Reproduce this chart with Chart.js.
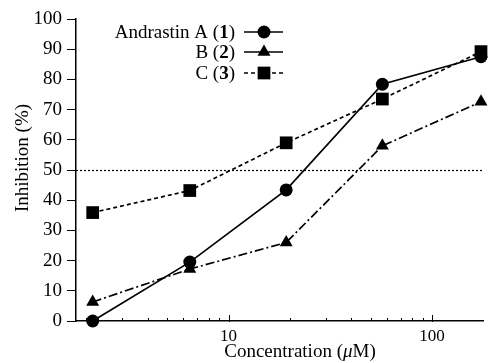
<!DOCTYPE html>
<html><head><meta charset="utf-8">
<script src="https://cdn.jsdelivr.net/npm/chart.js@4.4.1/dist/chart.umd.min.js"></script>
<style>html,body{margin:0;padding:0;background:#fff}#wrap{width:492px;height:363px}</style>
</head><body><div id="wrap"><canvas id="c" width="492" height="363"></canvas></div>
<script>
// ---- data ----
const concentrations = [2.15, 6.45, 19.2, 57, 174];
const andrastinA = [0, 19.5, 43.4, 78.4, 87.5];
const andrastinB = [6.3, 17.2, 26.0, 58.0, 72.6];
const andrastinC = [35.9, 43.2, 59.0, 73.5, 89.2];
const seriesNames = ['Andrastin A', 'B', 'C'];
const seriesNumbers = ['1', '2', '3'];
const yTickStep = 10;
const xMajorTicks = [10, 100];
const xMinorTicks = [2, 3, 4, 5, 6, 7, 8, 9, 20, 30, 40, 50, 60, 70, 80, 90];
const referenceLevel = 50;
const xTitleParts = ['Concentration (', '\u03bc', 'M)'];
const yTitle = 'Inhibition (%)';

const FONT = "'Liberation Serif', 'Times New Roman', serif";
const styles = [
  {pointStyle: 'circle', radius: 6.5, dash: [], legendDash: []},
  {pointStyle: 'triangle', radius: 7.5, dash: [9, 3, 2, 3], legendDash: []},
  {pointStyle: 'rect', radius: 9, dash: [4, 3], legendDash: [4, 3]}
];
const seriesValues = [andrastinA, andrastinB, andrastinC];

function mk(i) {
  return {
    label: seriesNames[i],
    data: concentrations.map((x, k) => ({x: x, y: seriesValues[i][k]})),
    borderColor: '#000', backgroundColor: '#000',
    borderWidth: 1.7, borderDash: styles[i].dash,
    pointStyle: styles[i].pointStyle, pointRadius: styles[i].radius,
    pointBackgroundColor: '#000', pointBorderColor: '#000', pointBorderWidth: 0,
    tension: 0, clip: false
  };
}

function drawMarker(ctx, style, r, x, y) {
  ctx.save(); ctx.setLineDash([]); ctx.fillStyle = '#000'; ctx.beginPath();
  if (style === 'circle') { ctx.arc(x, y, r, 0, Math.PI * 2); }
  else if (style === 'triangle') {
    let a = 0;
    ctx.moveTo(x + Math.sin(a) * r, y - Math.cos(a) * r); a += 2 * Math.PI / 3;
    ctx.lineTo(x + Math.sin(a) * r, y - Math.cos(a) * r); a += 2 * Math.PI / 3;
    ctx.lineTo(x + Math.sin(a) * r, y - Math.cos(a) * r); ctx.closePath();
  } else { const s = Math.SQRT1_2 * r; ctx.rect(x - s, y - s, 2 * s, 2 * s); }
  ctx.fill(); ctx.restore();
}

const extras = {
  id: 'extras',
  beforeDatasetsDraw(chart) {
    const ctx = chart.ctx, ca = chart.chartArea, ys = chart.scales.y, xs = chart.scales.x;
    ctx.save();
    ctx.strokeStyle = '#000'; ctx.lineWidth = 1.2; ctx.setLineDash([2, 2]);
    const yy = Math.round(ys.getPixelForValue(referenceLevel)) + 0.5;
    ctx.beginPath(); ctx.moveTo(ca.left, yy); ctx.lineTo(ca.right, yy); ctx.stroke();
    ctx.setLineDash([]); ctx.lineWidth = 1;
    const by = ca.bottom;
    xMinorTicks.forEach(v => {
      const px = Math.round(xs.getPixelForValue(v)) + 0.5;
      ctx.beginPath(); ctx.moveTo(px, by); ctx.lineTo(px, by - 3); ctx.stroke();
    });
    xMajorTicks.forEach(v => {
      const px = Math.round(xs.getPixelForValue(v)) + 0.5;
      ctx.beginPath(); ctx.moveTo(px, by + 1); ctx.lineTo(px, by - 6); ctx.stroke();
    });
    ctx.restore();
  },
  afterDatasetsDraw(chart) {
    const ctx = chart.ctx;
    const textRight = 235, lineL = 244, lineR = 283, mx = 264;
    const rows = [32, 52, 73];
    const normal = '19px ' + FONT, bold = 'bold 19px ' + FONT;
    ctx.save();
    ctx.fillStyle = '#000'; ctx.textBaseline = 'middle'; ctx.textAlign = 'left';
    rows.forEach((ry, i) => {
      const p1 = seriesNames[i] + ' (', p2 = seriesNumbers[i], p3 = ')';
      ctx.font = normal; const w1 = ctx.measureText(p1).width, w3 = ctx.measureText(p3).width;
      ctx.font = bold; const w2 = ctx.measureText(p2).width;
      let x = textRight - (w1 + w2 + w3);
      ctx.font = normal; ctx.fillText(p1, x, ry + 1); x += w1;
      ctx.font = bold; ctx.fillText(p2, x, ry + 1); x += w2;
      ctx.font = normal; ctx.fillText(p3, x, ry + 1);
      ctx.strokeStyle = '#000'; ctx.lineWidth = 1.7; ctx.setLineDash(styles[i].legendDash);
      ctx.beginPath(); ctx.moveTo(lineL, ry); ctx.lineTo(lineR, ry); ctx.stroke();
      drawMarker(ctx, styles[i].pointStyle, styles[i].radius, mx, ry);
    });
    // axis titles
    ctx.textBaseline = 'middle';
    // x title
    const parts = xTitleParts, fonts = [normal, 'italic 19px ' + FONT, normal];
    const widths = parts.map((p, k) => { ctx.font = fonts[k]; return ctx.measureText(p).width; });
    let tx = 300 - widths.reduce((a, b) => a + b, 0) / 2;
    parts.forEach((p, k) => { ctx.font = fonts[k]; ctx.fillText(p, tx, 352); tx += widths[k]; });
    // y title
    ctx.translate(23, 158); ctx.rotate(-Math.PI / 2);
    ctx.font = normal; ctx.textAlign = 'center';
    ctx.fillText(yTitle, 0, 0);
    ctx.restore();
  }
};

new Chart(document.getElementById('c'), {
  type: 'line',
  data: {datasets: [mk(0), mk(1), mk(2)]},
  options: {
    responsive: false, devicePixelRatio: 1, animation: false,
    layout: {padding: {top: 19, right: 0, left: 0, bottom: 0}},
    plugins: {legend: {display: false}, tooltip: {enabled: false}},
    scales: {
      x: {
        type: 'logarithmic', min: 1.78, max: 178,
        afterBuildTicks: s => { s.ticks = xMajorTicks.map(v => ({value: v})); },
        afterFit: s => { s.height = 42; },
        ticks: {autoSkip: false, maxRotation: 0, padding: 5, color: '#000',
                font: {family: FONT, size: 17}, callback: v => String(v)},
        grid: {display: false, drawTicks: false, tickLength: 0},
        border: {display: true, color: '#000', width: 1.5},
        title: {display: false}
      },
      y: {
        type: 'linear', min: 0, max: 100,
        afterFit: s => { s.width = 76; },
        ticks: {stepSize: yTickStep, padding: 5, color: '#000', font: {family: FONT, size: 19}},
        grid: {display: true, drawOnChartArea: false, drawTicks: true, tickLength: 9, color: '#000', lineWidth: 1},
        border: {display: true, color: '#000', width: 1.5},
        title: {display: false}
      }
    }
  },
  plugins: [extras]
});
</script></body></html>
